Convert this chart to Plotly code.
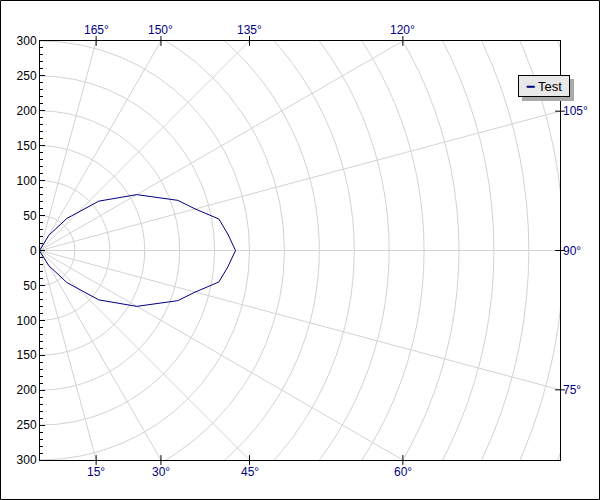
import numpy as np
import plotly.graph_objects as go

# polar data: angle (deg, 0 = straight down) and radius
angles = [0, 10, 30, 40, 50, 60, 70, 75, 80, 85, 90, 95, 100, 105, 110, 120, 130, 140, 150, 170, 180]
radii = [1, 2, 25, 60, 110, 160, 210, 230, 260, 270, 280, 270, 260, 230, 210, 160, 110, 60, 25, 2, 1]
series_name = "Test"

y_ticks = [-300, -250, -200, -150, -100, -50, 0, 50, 100, 150, 200, 250, 300]
y_tick_text = [str(abs(v)) for v in y_ticks]

grid_radii = list(range(50, 901, 50))
grid_angles = [15, 30, 45, 60, 75, 90, 105, 120, 135, 150, 165]
label_angles = [15, 30, 45, 60, 75, 90, 105, 120, 135, 150, 165]

# figure geometry (px)
W, H = 600, 500
ML, MR, MT, MB = 40, 40, 41, 40
PW, PH = W - ML - MR, H - MT - MB
Y_MAX = 300.0
X_MAX = 2 * Y_MAX * PW / PH  # equal scale on both axes

NAVY = "#000080"
GRID = "#d3d3d3"
FONT = "Liberation Sans"


def to_xy(theta_deg, r):
    t = np.radians(np.asarray(theta_deg, dtype=float))
    r = np.asarray(r, dtype=float)
    return r * np.sin(t), -r * np.cos(t)


def border_point(theta_deg):
    sx, sy = np.sin(np.radians(theta_deg)), -np.cos(np.radians(theta_deg))
    hits = []
    if abs(sy) > 1e-9:
        hits.append((Y_MAX / abs(sy), "top" if sy > 0 else "bottom"))
    if sx > 1e-9:
        hits.append((X_MAX / sx, "right"))
    t, side = min(hits)
    x, y = t * sx, t * sy
    if side == "right":
        x = X_MAX
    else:
        y = Y_MAX if side == "top" else -Y_MAX
    return x, y, side


def pfx(px):
    return (px - ML) / PW


def pfy(py):
    return (H - MB - py) / PH


fig = go.Figure()

px_, py_ = to_xy(angles, radii)
fig.add_trace(
    go.Scatter(
        x=px_,
        y=py_,
        mode="lines",
        name=series_name,
        line=dict(color=NAVY, width=1),
        showlegend=False,
    )
)

shapes = []
for r in grid_radii:
    shapes.append(
        dict(type="circle", xref="x", yref="y", x0=-r, y0=-r, x1=r, y1=r,
             line=dict(color=GRID, width=1), layer="below")
    )
for a in grid_angles:
    ex, ey = to_xy(a, 1200)
    shapes.append(
        dict(type="line", xref="x", yref="y", x0=0, y0=0, x1=float(ex), y1=float(ey),
             line=dict(color=GRID, width=1), layer="below")
    )

# angle labels and tick marks on the frame
annotations = []
tick_x, tick_y, tick_sym = [], [], []
for a in label_angles:
    bx, by, side = border_point(a)
    tick_x.append(bx)
    tick_y.append(by)
    tick_sym.append("line-ew" if side == "right" else "line-ns")
    ann = dict(xref="x", yref="y", x=bx, y=by, text=f"{a}°", showarrow=False,
               font=dict(family=FONT, size=12, color=NAVY))
    if side == "top":
        ann.update(xanchor="center", yanchor="middle", yshift=11)
    elif side == "bottom":
        ann.update(xanchor="center", yanchor="middle", yshift=-12)
    else:
        ann.update(xanchor="left", yanchor="middle", xshift=1)
    annotations.append(ann)

fig.add_trace(
    go.Scatter(
        x=tick_x,
        y=tick_y,
        mode="markers",
        marker=dict(symbol=tick_sym, size=7, color="black",
                    line=dict(color="black", width=1)),
        cliponaxis=False,
        showlegend=False,
        hoverinfo="skip",
    )
)

# legend box (drawn as a bordered annotation with a drop shadow)
annotations.append(
    dict(xref="paper", yref="paper", x=pfx(518), y=pfy(75),
         xanchor="left", yanchor="top", showarrow=False,
         text=f"<span style='color:{NAVY};font-family:DejaVu Sans'>━</span> {series_name}",
         font=dict(family=FONT, size=13, color="black"),
         width=44, height=14, align="center", valign="middle",
         bgcolor="#e8e8e8", bordercolor="black", borderwidth=1, borderpad=3)
)
shapes.append(
    dict(type="rect", xref="paper", yref="paper",
         x0=pfx(522), x1=pfx(574), y0=pfy(101), y1=pfy(79),
         fillcolor="#a9a9a9", line=dict(width=0), layer="above")
)
# outer image frame
shapes.append(
    dict(type="rect", xref="paper", yref="paper",
         x0=pfx(0.5), x1=pfx(W - 0.5), y0=pfy(H - 0.5), y1=pfy(0.5),
         line=dict(color="black", width=1), layer="above")
)

fig.update_layout(
    width=W,
    height=H,
    margin=dict(l=ML, r=MR, t=MT, b=MB, pad=0),
    paper_bgcolor="white",
    plot_bgcolor="white",
    font=dict(family=FONT, size=11, color="black"),
    showlegend=False,
    xaxis=dict(
        range=[0, X_MAX],
        showgrid=False,
        zeroline=False,
        showticklabels=False,
        ticks="",
        showline=True,
        linecolor="black",
        linewidth=1,
        mirror=True,
        fixedrange=True,
        automargin=False,
    ),
    yaxis=dict(
        range=[-Y_MAX, Y_MAX],
        tickmode="array",
        tickvals=y_ticks,
        ticktext=y_tick_text,
        ticks="inside",
        ticklen=5,
        tickcolor="black",
        tickfont=dict(size=12),
        showgrid=False,
        zeroline=False,
        showline=True,
        linecolor="black",
        linewidth=1,
        mirror=True,
        minor=dict(ticks="inside", ticklen=3, tickmode="linear", tick0=0, dtick=10,
                   tickcolor="black", showgrid=False),
        fixedrange=True,
        automargin=False,
    ),
    shapes=shapes,
    annotations=annotations,
)

fig.write_html(
    "out.html",
    config={"displayModeBar": False},
    post_script="document.body.style.margin='0';",
)
